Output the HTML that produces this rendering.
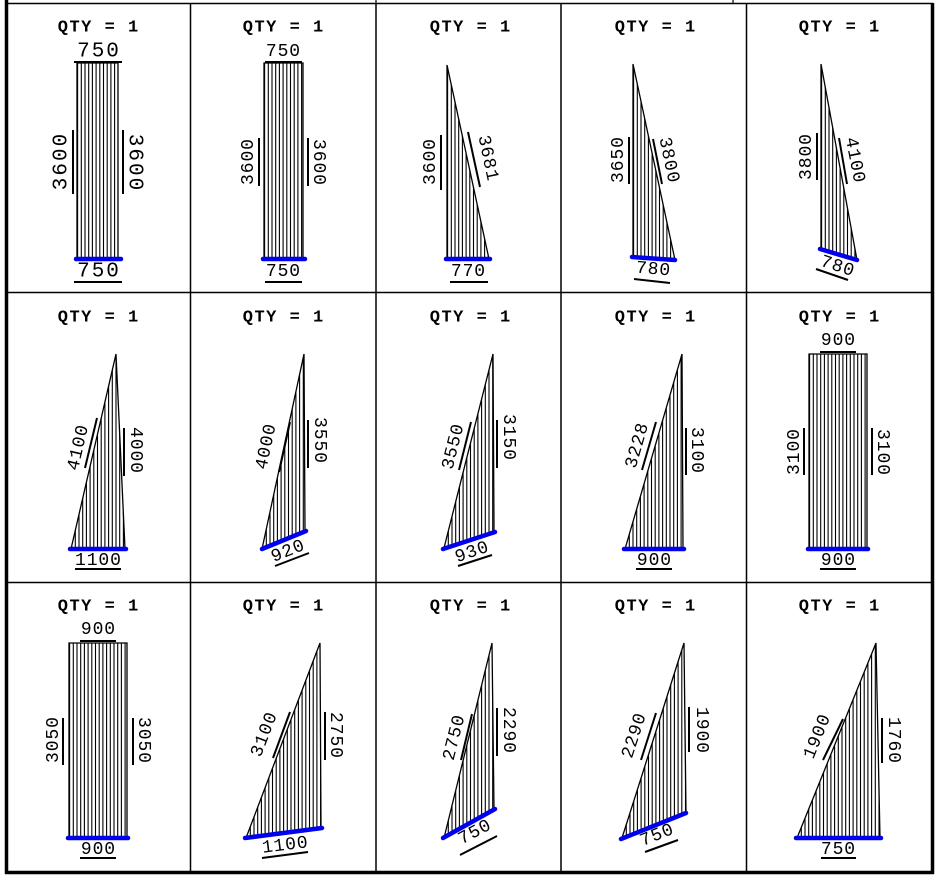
<!DOCTYPE html>
<html><head><meta charset="utf-8">
<style>
html,body{margin:0;padding:0;background:#fff;}
svg{display:block;}
text{font-family:"Liberation Mono","DejaVu Sans Mono",monospace;}
</style></head>
<body>
<svg id="s" width="939" height="881" viewBox="0 0 939 881" xmlns="http://www.w3.org/2000/svg">
<defs id="d"></defs>
<rect x="0" y="0" width="939" height="881" fill="#fff"/>
<g id="g"></g>
<g stroke="#000" fill="none">
<line x1="5" y1="3.5" x2="933" y2="3.5" stroke-width="1.5"/>
<line x1="376" y1="0" x2="376" y2="3" stroke-width="1.2"/>
<line x1="733" y1="0" x2="733" y2="3" stroke-width="1.2"/>
<line x1="6.5" y1="0" x2="6.5" y2="874" stroke-width="3.5"/>
<line x1="932.5" y1="3" x2="932.5" y2="874" stroke-width="3.5"/>
<line x1="5" y1="872.5" x2="934" y2="872.5" stroke-width="3.5"/>
<line x1="190.5" y1="3" x2="190.5" y2="872" stroke-width="1.5"/>
<line x1="376" y1="3" x2="376" y2="872" stroke-width="1.5"/>
<line x1="561" y1="3" x2="561" y2="872" stroke-width="1.5"/>
<line x1="746.5" y1="3" x2="746.5" y2="872" stroke-width="1.5"/>
<line x1="6" y1="292.5" x2="933" y2="292.5" stroke-width="1.5"/>
<line x1="6" y1="582.5" x2="933" y2="582.5" stroke-width="1.5"/>
</g>
</svg>
<script>
var NS="http://www.w3.org/2000/svg";
var g=document.getElementById('g'),d=document.getElementById('d');
function el(n,a,p){var e=document.createElementNS(NS,n);for(var k in a)e.setAttribute(k,a[k]);(p||g).appendChild(e);return e;}
function T(t,x,y,r,fs,ls,bold){var rr=r*Math.PI/180;x+=ls/2*Math.cos(rr);y+=ls/2*Math.sin(rr);
 var e=el('text',{x:x,y:y,'text-anchor':'middle','dominant-baseline':'central','font-size':fs,'letter-spacing':ls,transform:'rotate('+r+' '+x+' '+y+')'});if(bold)e.setAttribute('font-weight','bold');e.textContent=t;}
function L(a,b,c,e,w){el('line',{x1:a,y1:b,x2:c,y2:e,stroke:'#000','stroke-width':w||2});}
var id=0;
function shape(pts,blue){
  id++;var cp=el('clipPath',{id:'c'+id},d);el('polygon',{points:pts.map(function(p){return p.join(',')}).join(' ')},cp);
  var xs=pts.map(function(p){return p[0]}),ys=pts.map(function(p){return p[1]});
  var x0=Math.min.apply(0,xs),x1=Math.max.apply(0,xs),y0=Math.min.apply(0,ys),y1=Math.max.apply(0,ys);
  var gg=el('g',{'clip-path':'url(#c'+id+')'});
  for(var x=x0+0.6;x<=x1;x+=3.7)el('line',{x1:x,y1:y0,x2:x,y2:y1,stroke:'#000','stroke-width':1.1},gg);
  el('polygon',{points:pts.map(function(p){return p.join(',')}).join(' '),fill:'none',stroke:'#000','stroke-width':1.3});
  el('line',{x1:blue[0],y1:blue[1],x2:blue[2],y2:blue[3],stroke:'#0000ee','stroke-width':4.5,'stroke-linecap':'round'});
}
[97,282,469,654,838].forEach(function(x){[28,318,607].forEach(function(y){T('QTY = 1',x+1,y,0,17,1.5,true);});});
var F=18,S=0.9,BF=21,BS=2;
shape([[77,63],[118,63],[118,259],[77,259]],[76,259,121,259]);
L(74,62,122,62);T('750',98,52,0,BF,BS);
L(74,282,122,282);T('750',98,272,0,BF,BS);
L(73,130,73,194);T('3600',62,162,-90,BF,BS);
L(123,130,123,194);T('3600',134,162,90,BF,BS);
shape([[264,63],[303,63],[303,259],[264,259]],[263,259,305,259]);
L(265,62,302,62);T('750',283,52,0,F,S);
L(265,282,302,282);T('750',283,272,0,F,S);
L(259,138,259,186);T('3600',249,162,-90,F,S);
L(308,138,308,186);T('3600',318,162,90,F,S);
shape([[447,65],[489,259],[447,259]],[446,259,490,259]);
L(441,135,441,190);T('3600',431,162,-90,F,S);
L(468,132,480,187);T('3681',487,158,78,F,S);
L(450,282,488,282);T('770',468,272,0,F,S);
shape([[633,64],[675,260],[633,257]],[632,257,675,260]);
L(629,137,629,184);T('3650',619,160,-90,F,S);
L(653,139,662,184);T('3800',668,160,78,F,S);
T('780',653,270,5,F,S);L(634,279,670,283);
shape([[821,64],[857,260],[821,249]],[820,249,857,260]);
L(817,133,817,180);T('3800',807,157,-90,F,S);
L(839,138,847,184);T('4100',854,160,79,F,S);
T('780',837,267,18,F,S);L(816,269,848,280);
shape([[71,549],[116,354],[125,549]],[70,549,126,549]);
L(85,468,97,418);T('4100',79,448,-77,F,S);
L(124,428,124,476);T('4000',135,450,90,F,S);
T('1100',98,561,0,F,S);L(75,569,121,569);
shape([[262,549],[304,354],[305,531]],[262,549,306,531]);
L(279,472,290,422);T('4000',267,447,-78,F,S);
L(308,420,308,468);T('3550',319,440,90,F,S);
T('920',288,552,-22,F,S);L(275,566,309,553);
shape([[444,548],[493,354],[494,531]],[443,549,495,532]);
L(459,470,471,422);T('3550',454,447,-76,F,S);
L(497,420,497,468);T('3150',508,437,90,F,S);
T('930',472,553,-19,F,S);L(458,566,492,555);
shape([[625,549],[682,354],[683,549]],[624,549,684,549]);
L(642,470,656,422);T('3228',638,446,-74,F,S);
L(686,428,686,475);T('3100',696,450,90,F,S);
T('900',654,561,0,F,S);L(636,569,672,569);
shape([[809,354],[867,354],[867,549],[809,549]],[808,549,868,549]);
L(820,352,856,352);T('900',838,341,0,F,S);
L(804,428,804,475);T('3100',795,452,-90,F,S);
L(872,428,872,475);T('3100',882,452,90,F,S);
T('900',838,561,0,F,S);L(820,569,856,569);
shape([[69,643],[127,643],[127,838],[69,838]],[68,838,128,838]);
L(80,641,116,641);T('900',98,630,0,F,S);
L(63,718,63,765);T('3050',54,740,-90,F,S);
L(133,718,133,765);T('3050',143,740,90,F,S);
T('900',98,850,0,F,S);L(80,858,116,858);
shape([[246,838],[320,643],[321,828]],[245,838,322,828]);
L(273,758,290,712);T('3100',265,735,-69,F,S);
L(325,712,325,760);T('2750',335,735,90,F,S);
T('1100',285,846,-7,F,S);L(262,858,308,852);
shape([[444,838],[492,643],[494,810]],[443,838,495,809]);
L(461,760,472,714);T('2750',455,738,-76,F,S);
L(497,708,497,756);T('2290',508,730,90,F,S);
T('750',475,833,-28,F,S);L(460,855,497,836);
shape([[622,838],[684,643],[686,813]],[621,839,686,813]);
L(641,760,656,713);T('2290',635,736,-72,F,S);
L(689,707,689,752);T('1900',701,730,90,F,S);
T('750',657,836,-22,F,S);L(645,852,678,840);
shape([[797,838],[876,643],[880,838]],[796,838,881,838]);
L(823,760,843,719);T('1900',818,737,-68,F,S);
L(882,718,882,763);T('1760',893,740,90,F,S);
T('750',838,850,0,F,S);L(821,858,856,858);
</script>
</body></html>
